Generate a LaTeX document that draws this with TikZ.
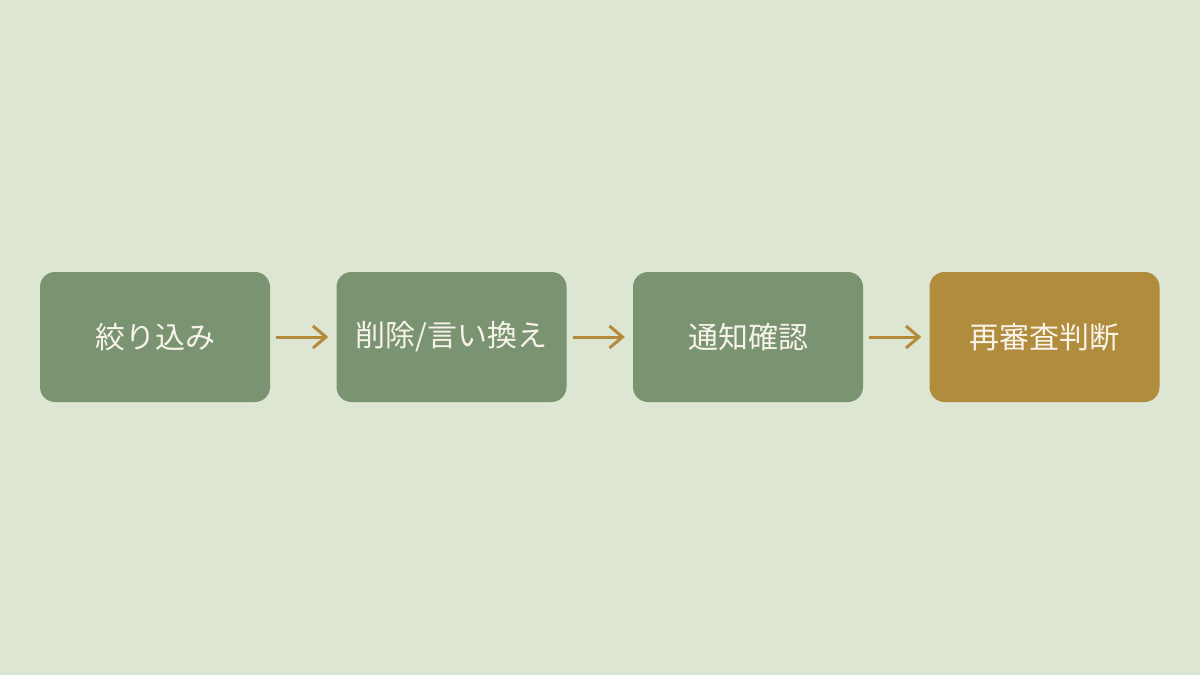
\documentclass[tikz,border=0pt]{standalone}
\usepackage{fontspec}
\setmainfont{Noto Sans CJK JP}
\usetikzlibrary{arrows.meta}
\definecolor{bg}{HTML}{DDE5D3}
\definecolor{boxgreen}{HTML}{7A9370}
\definecolor{boxgold}{HTML}{B08C3C}
\definecolor{arrowc}{HTML}{B38B3A}
\definecolor{txt}{HTML}{F7F3EA}
\tikzset{
  stepbox/.style={draw=none, fill=boxgreen, rounded corners=15pt, minimum width=230pt, minimum height=130pt, inner sep=0pt, text=txt, font=\fontsize{30}{34}\selectfont},
  goldbox/.style={stepbox, fill=boxgold},
  flow/.style={draw=arrowc, line width=3pt, -{Straight Barb[length=13pt,width=22pt,line width=3pt]}, shorten >=8pt, shorten <=6pt}
}
\begin{document}
\begin{tikzpicture}[x=1pt,y=-1pt]
\fill[bg] (0,0) rectangle (1200,675);
\useasboundingbox (0,0) rectangle (1200,675);
\node[stepbox] (a) at (155,337) {\raisebox{-1pt}{絞り込み}};
\node[stepbox] (b) at (451.5,337) {\raisebox{-1pt}{削除/言い換え}};
\node[stepbox] (c) at (748,337) {\raisebox{-1pt}{通知確認}};
\node[goldbox] (d) at (1044.5,337) {\raisebox{-1pt}{再審査判断}};
\draw[flow] (a) -- (b);
\draw[flow] (b) -- (c);
\draw[flow] (c) -- (d);
\end{tikzpicture}
\end{document}
